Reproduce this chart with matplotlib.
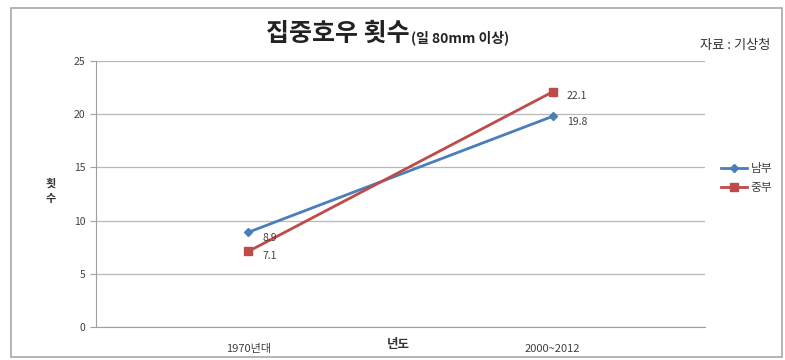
import matplotlib
matplotlib.use("Agg")
import matplotlib.pyplot as plt
from matplotlib.patches import Rectangle

plt.rcParams['font.family'] = ['Noto Sans CJK KR', 'DejaVu Sans']

categories = ["1970년대", "2000~2012"]
south = [8.9, 19.8]
central = [7.1, 22.1]
series_names = ["남부", "중부"]
yticks = [0, 5, 10, 15, 20, 25]

fig = plt.figure(figsize=(7.85, 3.6), dpi=100)
fig.patch.set_facecolor("white")

# outer chart frame
frame = Rectangle((0.014, 0.008), 0.982, 0.97, transform=fig.transFigure,
                  facecolor="none", edgecolor="#a8a8a8", lw=1.2)
fig.add_artist(frame)

ax = fig.add_axes([0.1223, 0.0917, 0.898 - 0.1223, 0.8306 - 0.0917])
x = list(range(len(categories)))

ax.plot(x, south, color="#4a7ebb", lw=2, marker="D", markersize=4, label=series_names[0])
ax.plot(x, central, color="#be4b48", lw=2, marker="s", markersize=6, label=series_names[1])

for xi, v in zip(x, south):
    ax.annotate(f"{v}", (xi, v), xytext=(10, -4), textcoords="offset points",
                fontsize=7.5, color="#404040", va="center")
for xi, v in zip(x, central):
    ax.annotate(f"{v}", (xi, v), xytext=(10, -3), textcoords="offset points",
                fontsize=7.5, color="#404040", va="center")

ax.set_xlim(-0.5, 1.5)
ax.set_ylim(0, 25)
ax.set_yticks(yticks)
ax.set_xticks(x)
ax.set_xticklabels(categories, fontsize=8, color="#404040")
ax.tick_params(axis="y", labelsize=7.5, colors="#404040", length=4, color="#a0a0a0")
ax.tick_params(axis="x", length=0, pad=12)
ax.grid(axis="y", color="#b8b8b8", lw=0.9)
ax.set_axisbelow(True)
for s in ["top", "right"]:
    ax.spines[s].set_visible(False)
ax.spines["left"].set_color("#a0a0a0")
ax.spines["bottom"].set_color("#a0a0a0")

# axis titles
fig.text(0.064, 0.47, "횟\n수", fontsize=8, fontweight="bold", color="#333333",
         ha="center", va="center", linespacing=1.2)
fig.text(0.508, 0.042, "년도", fontsize=9, fontweight="bold", color="#333333",
         ha="center", va="center")

# title
fig.text(0.522, 0.905, "집중호우 횟수", fontsize=18, fontweight="bold", color="#222222",
         ha="right", va="center")
fig.text(0.524, 0.895, "(일 80mm 이상)", fontsize=10, fontweight="bold", color="#222222",
         ha="left", va="center")
fig.text(0.982, 0.875, "자료 : 기상청", fontsize=9.5, color="#333333", ha="right", va="center")

fig.legend(loc="center left", bbox_to_anchor=(0.905, 0.505), frameon=False,
           fontsize=8.5, handlelength=2.2, handletextpad=0.3, labelspacing=0.5,
           labelcolor="#404040")

fig.savefig("out.png", dpi=100)
